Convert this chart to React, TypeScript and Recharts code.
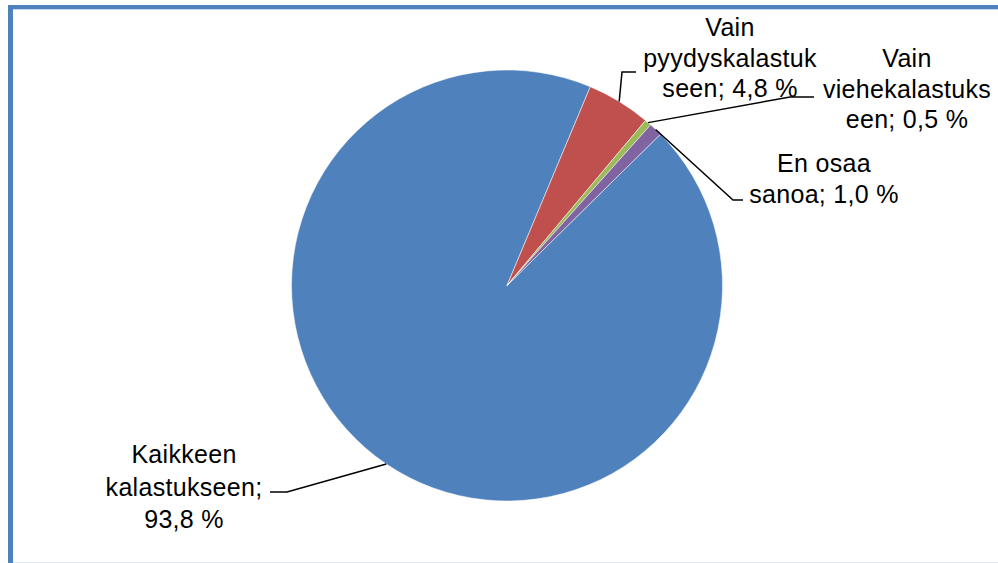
import React from 'react';
import { PieChart, Pie, Cell } from 'recharts';

// Answers to the question, share of respondents (%)
const categories = [
  'Kaikkeen kalastukseen',
  'Vain pyydyskalastukseen',
  'Vain viehekalastukseen',
  'En osaa sanoa',
];
const shares = [93.8, 4.8, 0.5, 1.0];
const valueLabels = ['93,8 %', '4,8 %', '0,5 %', '1,0 %'];
const labelLines = [
  ['Kaikkeen', 'kalastukseen;', '93,8 %'],
  ['Vain', 'pyydyskalastuk', 'seen; 4,8 %'],
  ['Vain', 'viehekalastuks', 'een; 0,5 %'],
  ['En osaa', 'sanoa; 1,0 %'],
];
const colors = ['#4F81BD', '#C0504D', '#9BBB59', '#8064A2'];

const data = categories.map((name, i) => ({ name, value: shares[i], label: valueLabels[i] }));

// where each data label sits and how its leader line bends
const labelLayout = [
  { x: 184, y: 463, lh: 32.5, elbow: [287, 492], end: [270, 492] },
  { x: 730, y: 36, lh: 30.5, elbow: [622, 72], end: [636, 72] },
  { x: 907, y: 67, lh: 30.5, elbow: [790, 97], end: [814, 97] },
  { x: 824, y: 172, lh: 31, elbow: [733, 200], end: [743, 200] },
];

const RADIAN = Math.PI / 180;

const renderLabel = (props: any) => {
  const { cx, cy, midAngle, outerRadius, index } = props;
  const sx = cx + outerRadius * Math.cos(-midAngle * RADIAN);
  const sy = cy + outerRadius * Math.sin(-midAngle * RADIAN);
  const l = labelLayout[index];
  return (
    <g key={`lbl-${index}`}>
      <polyline
        points={`${sx},${sy} ${l.elbow[0]},${l.elbow[1]} ${l.end[0]},${l.end[1]}`}
        fill="none"
        stroke="#000"
        strokeWidth={1.5}
      />
      <text
        x={l.x}
        y={l.y}
        textAnchor="middle"
        fill="#000"
        fontSize={25}
        letterSpacing={0.3}
        fontFamily="'Liberation Sans', Arial, sans-serif"
      >
        {labelLines[index].map((t, j) => (
          <tspan key={j} x={l.x} y={l.y + j * l.lh}>
            {t}
          </tspan>
        ))}
      </text>
    </g>
  );
};

export default function App() {
  return (
    <div style={{ position: 'absolute', left: 0, top: 0, width: 998, height: 563, background: '#fff' }}>
      {/* chart area frame */}
      <div style={{ position: 'absolute', left: 8, top: 5, right: 0, height: 4, background: '#4F81BD' }} />
      <div style={{ position: 'absolute', left: 8, top: 5, width: 5, bottom: 0, background: '#4F81BD' }} />
      <div style={{ position: 'absolute', left: 13, top: 9, right: 0, height: 1, background: '#C6D9F1' }} />
      <div style={{ position: 'absolute', left: 13, bottom: 0, right: 0, height: 1, background: '#DCE6F2' }} />
      <div style={{ position: 'absolute', left: 0, top: 0 }}>
        <PieChart width={998} height={563} margin={{ top: 0, right: 0, bottom: 0, left: 0 }}>
          <Pie
            data={data}
            dataKey="value"
            nameKey="name"
            cx={507}
            cy={285.5}
            outerRadius={215.5}
            startAngle={44.6}
            endAngle={-315.4}
            stroke="#fff"
            strokeWidth={0.5}
            label={renderLabel}
            labelLine={false}
            isAnimationActive={false}
          >
            {data.map((d, i) => (
              <Cell key={d.name} fill={colors[i]} />
            ))}
          </Pie>
        </PieChart>
      </div>
    </div>
  );
}
